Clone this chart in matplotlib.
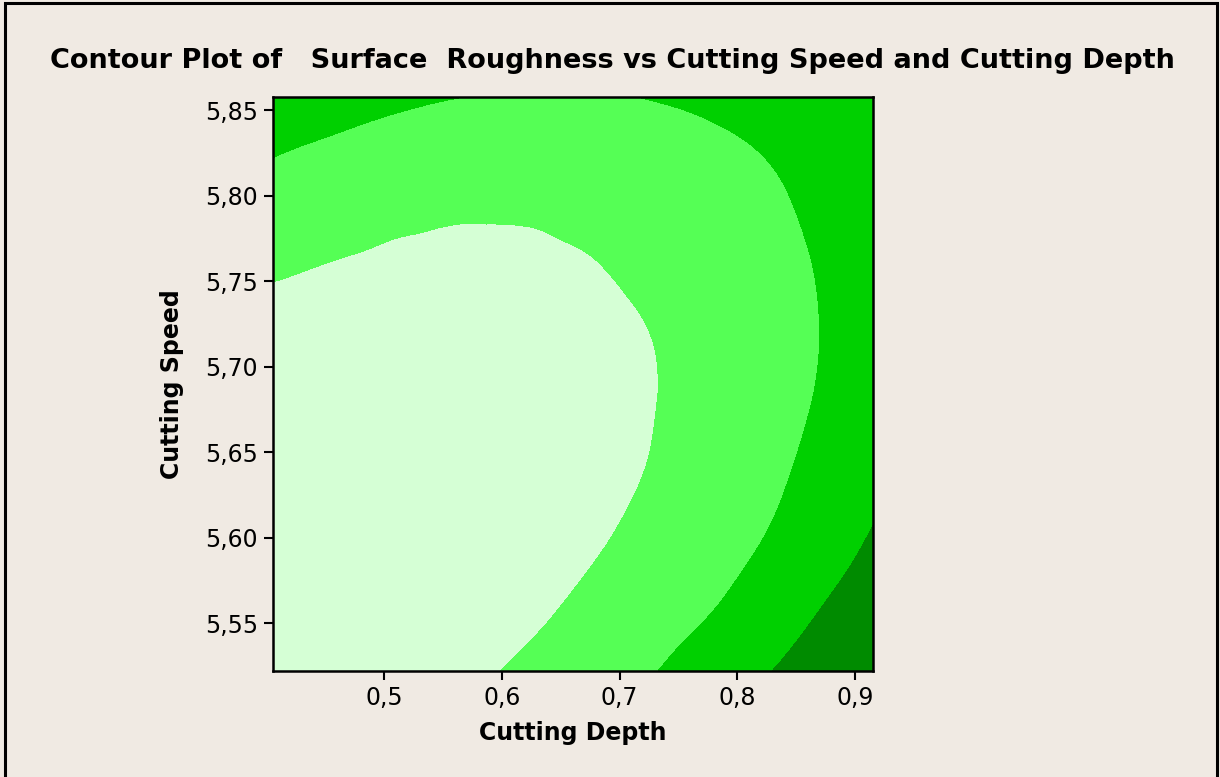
import numpy as np
import matplotlib.pyplot as plt
import matplotlib.tri as mtri
from matplotlib.patches import Rectangle
from matplotlib.ticker import FixedLocator, FixedFormatter

# ---- grid (surface roughness estimates)
depth = [0.40, 0.44, 0.48, 0.52, 0.56, 0.60, 0.64, 0.68, 0.72, 0.76, 0.80, 0.84, 0.88, 0.92]
speed = [5.52, 5.56, 5.60, 5.64, 5.68, 5.72, 5.76, 5.80, 5.84, 5.88]

rough_552 = [0.25, 0.28, 0.38, 0.53, 0.75, 1.03, 1.32, 1.62, 1.91, 2.29, 2.71, 3.13, 3.45, 3.75]
rough_556 = [0.12, 0.14, 0.21, 0.32, 0.48, 0.68, 0.93, 1.22, 1.52, 1.81, 2.17, 2.63, 3.08, 3.45]
rough_560 = [0.11, 0.13, 0.18, 0.26, 0.38, 0.53, 0.71, 0.92, 1.20, 1.51, 1.81, 2.18, 2.65, 3.12]
rough_564 = [0.20, 0.19, 0.21, 0.27, 0.35, 0.47, 0.61, 0.78, 0.99, 1.30, 1.62, 1.94, 2.36, 2.80]
rough_568 = [0.40, 0.36, 0.35, 0.37, 0.42, 0.50, 0.61, 0.76, 0.93, 1.20, 1.50, 1.80, 2.16, 2.60]
rough_572 = [0.71, 0.62, 0.57, 0.56, 0.57, 0.62, 0.71, 0.82, 0.97, 1.23, 1.50, 1.78, 2.08, 2.45]
rough_576 = [1.13, 1.02, 0.94, 0.89, 0.87, 0.88, 0.92, 0.99, 1.15, 1.36, 1.59, 1.84, 2.13, 2.50]
rough_580 = [1.66, 1.46, 1.31, 1.20, 1.14, 1.12, 1.15, 1.22, 1.34, 1.50, 1.71, 1.97, 2.27, 2.61]
rough_584 = [2.33, 2.15, 1.97, 1.83, 1.74, 1.68, 1.67, 1.70, 1.78, 1.89, 2.05, 2.25, 2.50, 2.78]
rough_588 = [2.95, 2.77, 2.57, 2.41, 2.30, 2.23, 2.20, 2.22, 2.28, 2.38, 2.52, 2.71, 2.90, 2.98]

levels = [-1, 1, 2, 3, 5]
shades = ['#d5ffd5', '#55ff55', '#00d000', '#008b00']

xticks = [0.5, 0.6, 0.7, 0.8, 0.9]
xtick_labels = ['0,5', '0,6', '0,7', '0,8', '0,9']
yticks = [5.55, 5.60, 5.65, 5.70, 5.75, 5.80, 5.85]
ytick_labels = ['5,55', '5,60', '5,65', '5,70', '5,75', '5,80', '5,85']

BG = '#f0eae3'

Z = np.array([rough_552, rough_556, rough_560, rough_564, rough_568,
              rough_572, rough_576, rough_580, rough_584, rough_588])
X, Y = np.meshgrid(depth, speed)

fig = plt.figure(figsize=(12.2, 7.77), dpi=100, facecolor=BG)
ax = fig.add_axes([0.2238, 0.1364, 0.4918, 0.7391])
ax.set_facecolor(BG)

# smooth the contour edges with matplotlib's own cubic triangulation refiner
tri = mtri.Triangulation(X.ravel(), Y.ravel())
refiner = mtri.UniformTriRefiner(tri)
tri_f, z_f = refiner.refine_field(Z.ravel(), subdiv=3)
ax.tricontourf(tri_f, z_f, levels=levels, colors=shades)

ax.set_xlim(0.4055, 0.9153)
ax.set_ylim(5.522, 5.858)

ax.xaxis.set_major_locator(FixedLocator(xticks))
ax.xaxis.set_major_formatter(FixedFormatter(xtick_labels))
ax.yaxis.set_major_locator(FixedLocator(yticks))
ax.yaxis.set_major_formatter(FixedFormatter(ytick_labels))
ax.tick_params(direction='out', length=6.2, width=1.5, labelsize=17, pad=4.5, color='black')
for sp in ax.spines.values():
    sp.set_linewidth(1.8)
    sp.set_zorder(5)

ax.set_xlabel('Cutting Depth', fontsize=17, fontweight='bold', labelpad=8)
ax.set_ylabel('Cutting Speed', fontsize=17, fontweight='bold', labelpad=15)

fig.text(0.502, 0.922, 'Contour Plot of   Surface  Roughness vs Cutting Speed and Cutting Depth',
         ha='center', va='center', fontsize=19.5, fontweight='bold')

# outer frame of the graph window
fig.patches.append(Rectangle((5/1220, -0.02), (1217-5)/1220, 1.02 - 3/777,
                             transform=fig.transFigure, fill=False,
                             edgecolor='black', linewidth=2.2))

fig.savefig('out.png', dpi=100, facecolor=BG)
